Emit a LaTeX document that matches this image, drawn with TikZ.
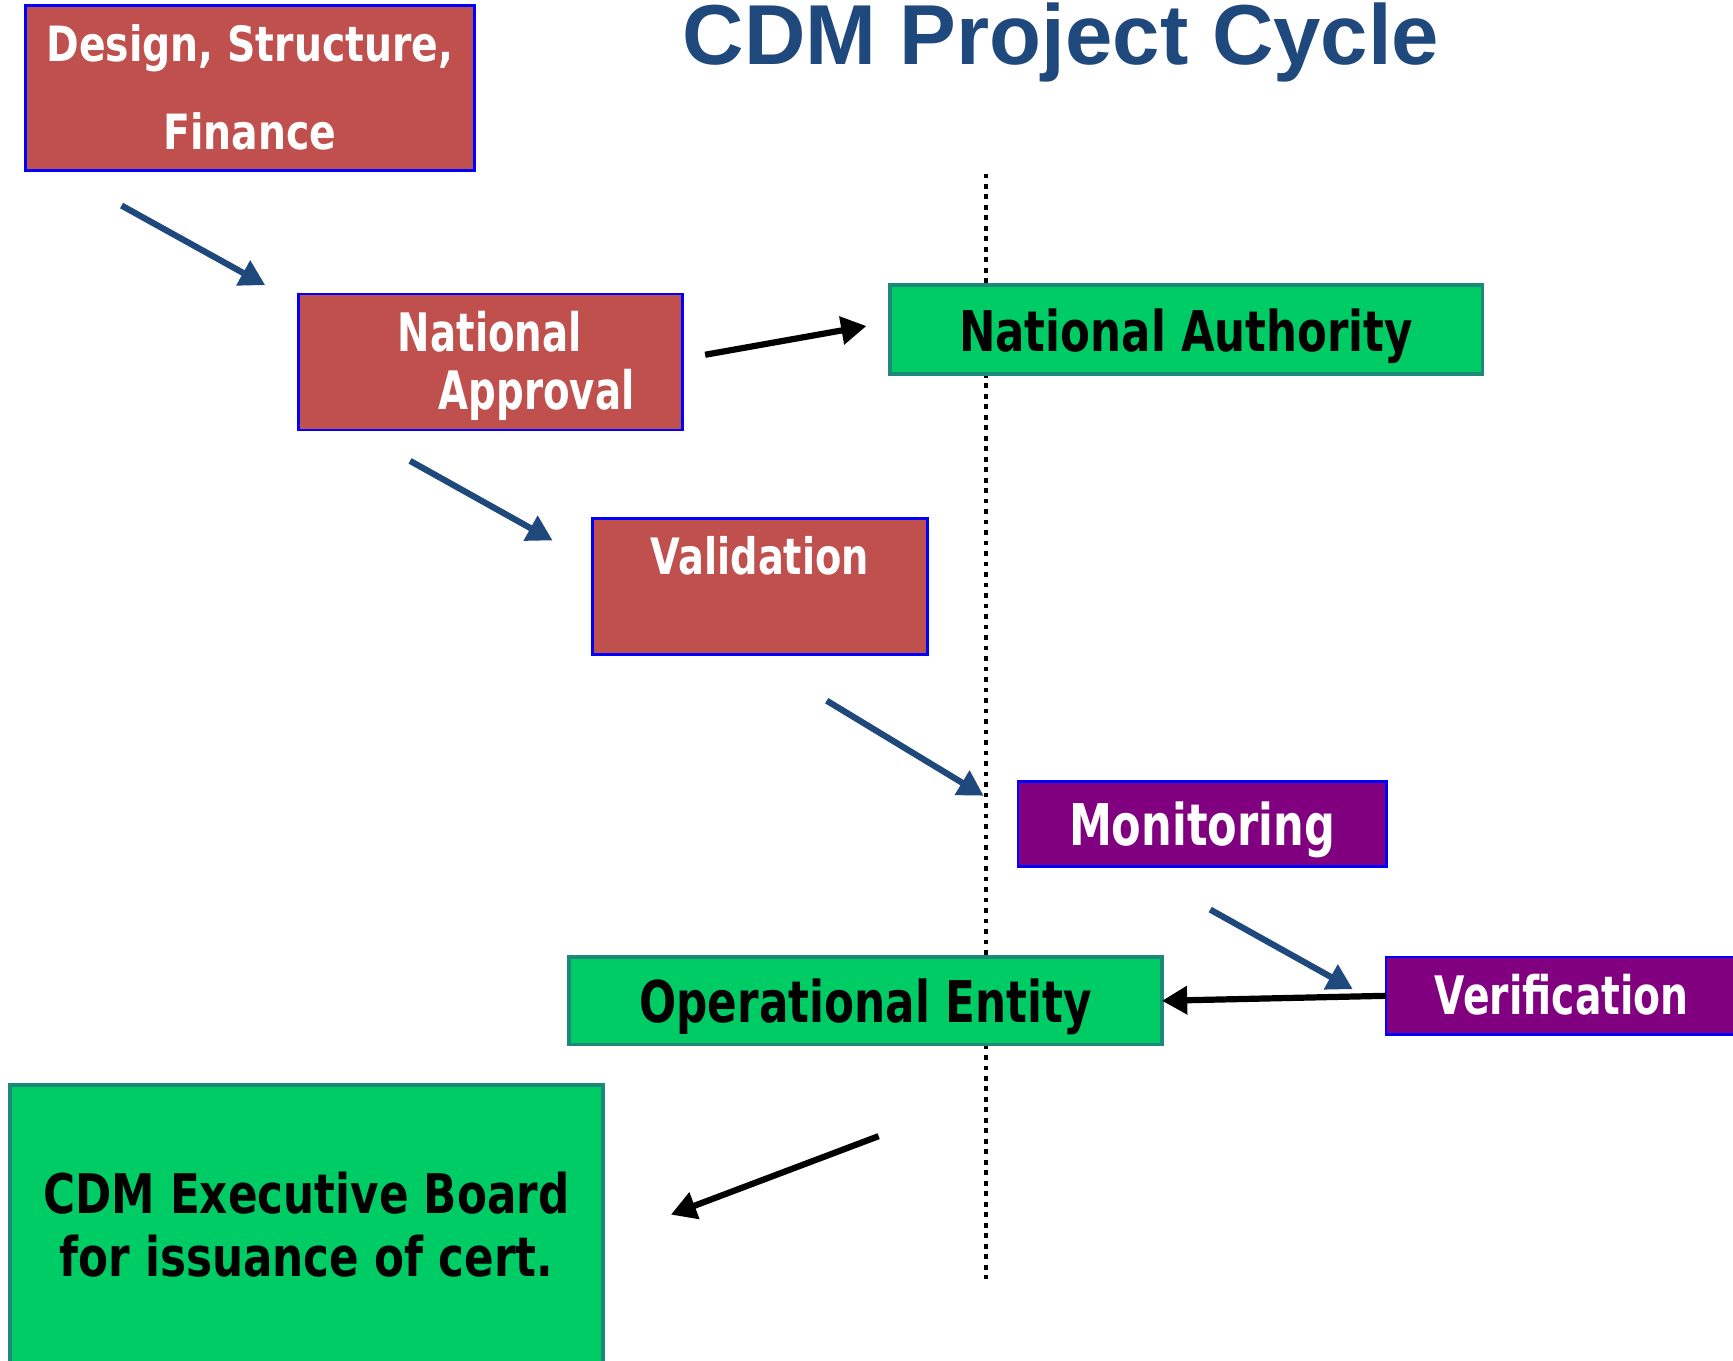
\documentclass[tikz,border=0pt]{standalone}
\usepackage{fontspec}
\usetikzlibrary{arrows.meta}
\newfontfamily\titlefont{Liberation Sans}
\newfontfamily\fA{DejaVu Sans}[FakeStretch=0.81]
\newfontfamily\fB{DejaVu Sans}[FakeStretch=0.73]
\newfontfamily\fC{DejaVu Sans}[FakeStretch=0.775]
\newfontfamily\fD{DejaVu Sans}[FakeStretch=0.765]
\newfontfamily\fE{DejaVu Sans}[FakeStretch=0.75]
\newfontfamily\fF{DejaVu Sans}[FakeStretch=0.74]
\newfontfamily\fG{DejaVu Sans}[FakeStretch=0.76]
\newfontfamily\fH{DejaVu Sans}[FakeStretch=0.80]
\definecolor{boxred}{HTML}{C0504D}
\definecolor{boxgreen}{HTML}{00CC66}
\definecolor{tealb}{HTML}{1B8A7A}
\definecolor{arrblue}{HTML}{1F497D}
\definecolor{purp}{HTML}{800080}
\tikzset{
  basebox/.style={inner sep=0pt, outer sep=0pt, anchor=north west},
  redbox/.style={basebox, draw=blue, line width=0.7pt, fill=boxred, text=white},
  greenbox/.style={basebox, draw=tealb, line width=1pt, fill=boxgreen, text=black},
  purplebox/.style={basebox, draw=blue, line width=0.7pt, fill=purp, text=white},
  barrow/.style={draw=arrblue, line width=1.6pt, -{Triangle[length=6.5pt,width=7pt]}},
  karrow/.style={draw=black, line width=1.6pt, -{Triangle[length=6.5pt,width=7pt]}},
  vline/.style={draw=black, line width=1.2pt, dash pattern=on 1.2pt off 1.5pt}
}
\begin{document}
\begin{tikzpicture}[x=0.01cm, y=-0.01cm]
\useasboundingbox (0,0) rectangle (1568,1231);
\fill[white] (0,0) rectangle (1568,1231);
\clip (0,0) rectangle (1568,1231);

% dotted separator
\coordinate (vtop) at (892,157);
\coordinate (vbot) at (892,1157);
\draw[vline] (vtop) -- (vbot);

% title
\node[font=\titlefont\bfseries\fontsize{21.9pt}{26pt}\selectfont, text=arrblue, anchor=base, inner sep=0pt] (title) at (960,58) {CDM Project Cycle};

% boxes
\node[redbox, minimum width=4.06cm, minimum height=1.49cm, text height=1.30cm, text depth=0.19cm, align=center,
      font=\fA\bfseries\fontsize{12.5pt}{22.5pt}\selectfont] (design) at (23,5) {Design, Structure,\\Finance};
\node[redbox, text width=3.47cm, minimum height=1.23cm, text height=0.52cm, text depth=0.71cm, align=left,
      font=\fB\bfseries\fontsize{13.65pt}{14.8pt}\selectfont] (napp) at (270,266) {\hspace*{0.9cm}National\\\hspace*{1.27cm}Approval};
\node[greenbox, minimum width=5.36cm, minimum height=0.80cm, text height=0.60cm, text depth=0.20cm,
      font=\fC\bfseries\fontsize{14.45pt}{16pt}\selectfont] (nauth) at (805,258) {National Authority};
\node[redbox, minimum width=3.03cm, minimum height=1.23cm, text height=0.51cm, text depth=0.72cm,
      font=\fD\bfseries\fontsize{12.9pt}{15pt}\selectfont] (valid) at (536,469) {Validation};
\node[purplebox, minimum width=3.33cm, minimum height=0.77cm, text height=0.58cm, text depth=0.19cm,
      font=\fE\bfseries\fontsize{14.8pt}{16pt}\selectfont] (monit) at (921,707) {Monitoring};
\node[purplebox, minimum width=3.18cm, minimum height=0.70cm, text height=0.52cm, text depth=0.18cm,
      font=\fF\bfseries\fontsize{13.65pt}{16pt}\selectfont] (verif) at (1254,866) {Verification};
\node[greenbox, minimum width=5.36cm, minimum height=0.79cm, text height=0.59cm, text depth=0.20cm,
      font=\fG\bfseries\fontsize{14.8pt}{16pt}\selectfont] (opent) at (515,866) {Operational Entity};
\node[greenbox, minimum width=5.36cm, minimum height=2.54cm, text height=1.73cm, text depth=0.81cm, align=center,
      font=\fH\bfseries\fontsize{14.05pt}{16.2pt}\selectfont] (cdmeb) at (9,982) {CDM Executive Board\\for issuance of cert.};

% arrows
\coordinate (a1s) at (110,186);  \coordinate (a1e) at (240,258);
\coordinate (a2s) at (638,321);  \coordinate (a2e) at (784,295);
\coordinate (a3s) at (371,417);  \coordinate (a3e) at (500,489);
\coordinate (a4s) at (748,634);  \coordinate (a4e) at (890,720);
\coordinate (a5s) at (1095,823); \coordinate (a5e) at (1224,895);
\coordinate (a7s) at (795,1028); \coordinate (a7e) at (607,1099);
\draw[barrow] (a1s) -- (a1e);
\draw[karrow] (a2s) -- (a2e);
\draw[barrow] (a3s) -- (a3e);
\draw[barrow] (a4s) -- (a4e);
\draw[barrow] (a5s) -- (a5e);
\draw[karrow] (verif.west) -- (opent.east);
\draw[karrow] (a7s) -- (a7e);
\end{tikzpicture}
\end{document}
